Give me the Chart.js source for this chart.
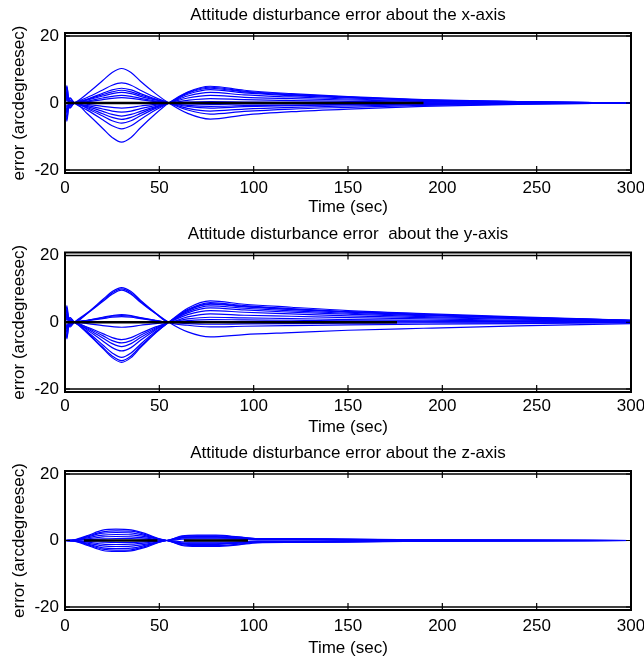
<!DOCTYPE html>
<html lang="en">
<head>
<meta charset="UTF-8">
<title>Attitude disturbance error</title>
<style>
    body { margin: 0; background: #ffffff; }
    #figure { position: relative; width: 644px; height: 662px; }
    .panel { position: absolute; left: 0; width: 644px; }
    .panel canvas { display: block; }
</style>
<script src="https://cdn.jsdelivr.net/npm/chart.js"></script>
</head>
<body>
<div id="figure">
    <div class="panel" style="top:0px"><canvas id="chartX" width="644" height="220"></canvas></div>
    <div class="panel" style="top:220px"><canvas id="chartY" width="644" height="220"></canvas></div>
    <div class="panel" style="top:440px"><canvas id="chartZ" width="644" height="222"></canvas></div>
</div>
<script>
// tick labels
const xTicks = [0, 50, 100, 150, 200, 250, 300];
const yTicks = [-20, 0, 20];

// sample times (sec) for the x- and y-axis runs
const timeXY = [0, 1, 2.5, 5, 12, 20, 25, 30, 35, 40, 48, 55, 65, 77, 95, 120, 150, 190, 240, 300];

// error about the x-axis (arcdegreesec), one row per run
const errX = [
    [0, 1.5, -0.5, 0, 2.9, 6.7, 9.1, 10.3, 9.1, 6.5, 2.8, 0, -3.1, -4.8, -3.6, -2.6, -1.8, -1.0, -0.4, 0],
    [0, 3.0, -0.9, 0, 1.7, 3.9, 5.3, 6.0, 5.3, 3.8, 1.6, 0, -2.1, -3.3, -2.5, -1.8, -1.3, -0.7, -0.3, 0],
    [0, -2.0, 0.6, 0, 1.2, 2.9, 3.9, 4.4, 3.9, 2.8, 1.2, 0, -1.6, -2.4, -1.8, -1.3, -0.9, -0.5, -0.2, 0],
    [0, 4.8, -1.4, 0, 1.1, 2.5, 3.3, 3.8, 3.3, 2.4, 1.0, 0, -1.0, -1.5, -1.1, -0.8, -0.6, -0.3, -0.1, 0],
    [0, -3.0, 0.9, 0, 0.9, 2.1, 2.8, 3.2, 2.8, 2.0, 0.9, 0, -0.7, -1.0, -0.8, -0.6, -0.4, -0.2, -0.1, 0],
    [0, 2.0, -0.6, 0, 0.6, 1.5, 2.0, 2.3, 2.0, 1.4, 0.6, 0, -0.3, -0.4, -0.3, -0.2, -0.2, -0.1, 0, 0],
    [0, -1.0, 0.3, 0, 0.4, 1.0, 1.4, 1.6, 1.4, 1.0, 0.4, 0, 0.3, 0.4, 0.3, 0.2, 0.2, 0.1, 0, 0],
    [0, 5.2, -1.6, 0, -0.4, -1.0, -1.3, -1.5, -1.3, -0.9, -0.4, 0, 0.8, 1.3, 1.0, 0.7, 0.5, 0.3, 0.1, 0],
    [0, -4.5, 1.4, 0, -0.8, -1.8, -2.4, -2.7, -2.4, -1.7, -0.7, 0, 1.5, 2.3, 1.7, 1.3, 0.9, 0.5, 0.2, 0],
    [0, 1.0, -0.3, 0, -1.1, -2.5, -3.4, -3.9, -3.4, -2.5, -1.1, 0, 2.1, 3.2, 2.4, 1.8, 1.2, 0.6, 0.3, 0],
    [0, -2.5, 0.8, 0, -1.4, -3.2, -4.3, -4.9, -4.3, -3.1, -1.3, 0, 2.6, 4.0, 3.0, 2.2, 1.5, 0.8, 0.3, 0],
    [0, 3.5, -1.0, 0, -1.7, -3.9, -5.3, -6.0, -5.3, -3.8, -1.6, 0, 2.9, 4.4, 3.3, 2.4, 1.7, 0.9, 0.4, 0],
    [0, -5.5, 1.6, 0, -2.2, -5.0, -6.8, -7.7, -6.8, -4.9, -2.1, 0, 3.1, 4.7, 3.5, 2.6, 1.8, 0.9, 0.4, 0],
    [0, 2.5, -0.8, 0, -3.3, -7.6, -10.3, -11.7, -10.3, -7.4, -3.2, 0, 3.3, 5.0, 3.8, 2.8, 1.9, 1.0, 0.4, 0]
];

// error about the y-axis
const errY = [
    [0, 5.0, -1.5, 0, 2.9, 6.8, 9.2, 10.4, 9.2, 6.6, 2.8, 0, -2.9, -4.4, -3.7, -3.1, -2.4, -1.8, -1.1, -0.4],
    [0, -2.0, 0.6, 0, 2.8, 6.5, 8.8, 10.0, 8.8, 6.3, 2.7, 0, -0.9, -1.4, -1.2, -1.0, -0.8, -0.6, -0.4, -0.1],
    [0, 1.5, -0.5, 0, 2.7, 6.2, 8.4, 9.6, 8.4, 6.0, 2.6, 0, 0.1, 0.2, 0.2, 0.1, 0.1, 0.1, 0.1, 0],
    [0, -4.5, 1.4, 0, 0.6, 1.5, 2.0, 2.3, 2.0, 1.4, 0.6, 0, 1.0, 1.5, 1.3, 1.1, 0.8, 0.6, 0.4, 0.2],
    [0, 2.5, -0.8, 0, 0.6, 1.3, 1.8, 2.0, 1.8, 1.3, 0.5, 0, -0.4, -0.6, -0.5, -0.4, -0.3, -0.2, -0.2, -0.1],
    [0, -1.0, 0.3, 0, 0.5, 1.1, 1.5, 1.7, 1.5, 1.1, 0.5, 0, 1.6, 2.5, 2.1, 1.8, 1.4, 1.0, 0.6, 0.3],
    [0, 3.5, -1.1, 0, -0.4, -1.0, -1.3, -1.5, -1.3, -0.9, -0.4, 0, 0.5, 0.8, 0.7, 0.6, 0.4, 0.3, 0.2, 0.1],
    [0, -3.0, 0.9, 0, -1.5, -3.4, -4.6, -5.2, -4.6, -3.3, -1.4, 0, 2.3, 3.5, 3.0, 2.5, 1.9, 1.4, 0.9, 0.4],
    [0, 1.0, -0.3, 0, -1.7, -4.0, -5.5, -6.2, -5.5, -3.9, -1.7, 0, 2.8, 4.3, 3.7, 3.0, 2.4, 1.7, 1.1, 0.4],
    [0, -5.0, 1.5, 0, -2.0, -4.7, -6.4, -7.3, -6.4, -4.6, -2.0, 0, 3.2, 4.9, 4.2, 3.4, 2.7, 2.0, 1.2, 0.5],
    [0, 4.0, -1.2, 0, -2.4, -5.6, -7.6, -8.6, -7.6, -5.4, -2.3, 0, 3.5, 5.4, 4.6, 3.8, 3.0, 2.2, 1.4, 0.5],
    [0, -2.0, 0.6, 0, -2.9, -6.8, -9.2, -10.5, -9.2, -6.6, -2.8, 0, 3.8, 5.9, 5.0, 4.1, 3.2, 2.4, 1.5, 0.6],
    [0, 2.0, -0.6, 0, -3.2, -7.5, -10.1, -11.5, -10.1, -7.2, -3.1, 0, 4.2, 6.4, 5.4, 4.5, 3.5, 2.6, 1.6, 0.6],
    [0, -1.5, 0.5, 0, -3.4, -7.8, -10.6, -12.0, -10.6, -7.6, -3.2, 0, 3.6, 5.6, 4.8, 3.9, 3.1, 2.2, 1.4, 0.6]
];

// sample times for the z-axis runs
const timeZ = [0, 5, 12, 20, 27, 35, 43, 50, 54, 62, 70, 80, 92, 102, 120, 150, 190, 230, 300];

// error about the z-axis
const errZ = [
    [0, 0.2, 1.5, 3.1, 3.4, 3.2, 2.0, 0.5, 0, -0.9, -1.0, -1.0, -0.7, -0.4, -0.4, -0.3, -0.1, -0.1, 0],
    [0, 0.1, 1.3, 2.6, 2.9, 2.8, 1.7, 0.4, 0, 1.4, 1.6, 1.6, 1.1, 0.6, 0.6, 0.4, 0.2, 0.1, 0],
    [0, 0.1, 1.1, 2.2, 2.4, 2.3, 1.4, 0.4, 0, -1.3, -1.5, -1.5, -1.1, -0.6, -0.5, -0.4, -0.2, -0.1, 0],
    [0, 0.1, 0.8, 1.6, 1.8, 1.7, 1.1, 0.3, 0, 1.0, 1.2, 1.2, 0.8, 0.5, 0.4, 0.3, 0.1, 0.1, 0],
    [0, 0.1, 0.5, 1.1, 1.2, 1.1, 0.7, 0.2, 0, -0.7, -0.8, -0.8, -0.6, -0.3, -0.3, -0.2, -0.1, 0, 0],
    [0, 0, 0.3, 0.5, 0.6, 0.6, 0.4, 0.1, 0, 0.4, 0.5, 0.5, 0.4, 0.2, 0.2, 0.1, 0.1, 0, 0],
    [0, 0, -0.3, -0.5, -0.6, -0.6, -0.4, -0.1, 0, -0.4, -0.5, -0.5, -0.4, -0.2, -0.2, -0.1, -0.1, 0, 0],
    [0, -0.1, -0.5, -1.1, -1.2, -1.1, -0.7, -0.2, 0, 0.9, 1.0, 1.0, 0.7, 0.4, 0.4, 0.3, 0.1, 0.1, 0],
    [0, -0.1, -0.8, -1.6, -1.8, -1.7, -1.1, -0.3, 0, -1.5, -1.8, -1.8, -1.3, -0.7, -0.6, -0.5, -0.2, -0.1, 0],
    [0, -0.1, -1.1, -2.2, -2.4, -2.3, -1.4, -0.4, 0, 0.7, 0.8, 0.8, 0.6, 0.3, 0.3, 0.2, 0.1, 0, 0],
    [0, -0.1, -1.3, -2.6, -2.9, -2.8, -1.7, -0.4, 0, 1.2, 1.4, 1.4, 1.0, 0.6, 0.5, 0.4, 0.1, 0.1, 0],
    [0, -0.2, -1.5, -3.0, -3.3, -3.1, -2.0, -0.5, 0, -1.0, -1.2, -1.2, -0.8, -0.5, -0.4, -0.3, -0.1, -0.1, 0]
];

// black reference (zero) line, null = gap
const refX1 = [0, 190];
const refY1 = [0, 0];
const refX2 = [0, 176];
const refY2 = [0, 0];
const refX3 = [10, 49, 56, 63, 97];
const refY3 = [0, 0, null, 0, 0];

const FONT = "'Liberation Sans', Arial, Helvetica, sans-serif";

// MATLAB style box: double line top/bottom, inward ticks
const boxPlugin = {
    id: 'matlabBox',
    afterDatasetsDraw(chart) {
        const { ctx, chartArea: a, scales } = chart;
        const g = 3;
        ctx.save();
        ctx.strokeStyle = '#000';
        ctx.lineWidth = 1.3;
        ctx.beginPath();
        ctx.moveTo(a.left, a.top); ctx.lineTo(a.right, a.top);
        ctx.moveTo(a.left, a.bottom); ctx.lineTo(a.right, a.bottom);
        ctx.stroke();
        ctx.lineWidth = 2;
        ctx.beginPath();
        ctx.moveTo(a.left, a.top - g); ctx.lineTo(a.right, a.top - g);
        ctx.moveTo(a.left, a.bottom + g); ctx.lineTo(a.right, a.bottom + g);
        ctx.moveTo(a.left, a.top - g - 1); ctx.lineTo(a.left, a.bottom + g + 1);
        ctx.moveTo(a.right, a.top - g - 1); ctx.lineTo(a.right, a.bottom + g + 1);
        ctx.stroke();
        ctx.lineWidth = 1.2;
        ctx.beginPath();
        xTicks.forEach(v => {
            const px = scales.x.getPixelForValue(v);
            ctx.moveTo(px, a.top - g); ctx.lineTo(px, a.top + 4);
            ctx.moveTo(px, a.bottom + g); ctx.lineTo(px, a.bottom - 4);
        });
        yTicks.forEach(v => {
            const py = scales.y.getPixelForValue(v);
            ctx.moveTo(a.left, py); ctx.lineTo(a.left + 5, py);
            ctx.moveTo(a.right, py); ctx.lineTo(a.right - 5, py);
        });
        ctx.stroke();
        ctx.restore();
    }
};

function makeChart(id, title, times, runs, refX, refY, geo) {
    const datasets = [{
        data: refX.map((x, i) => ({ x: x, y: refY[i] })),
        borderColor: '#000000',
        borderWidth: 2.5,
        pointRadius: 0,
        spanGaps: false
    }];
    runs.forEach(run => {
        datasets.push({
            data: times.map((t, i) => ({ x: t, y: run[i] })),
            borderColor: '#0000ff',
            borderWidth: 1.2,
            pointRadius: 0,
            cubicInterpolationMode: 'monotone'
        });
    });

    return new Chart(document.getElementById(id), {
        type: 'line',
        data: { datasets: datasets },
        plugins: [boxPlugin],
        options: {
            responsive: false,
            animation: false,
            events: [],
            layout: { padding: { left: 0, right: 13, top: 0, bottom: 0 } },
            plugins: {
                legend: { display: false },
                tooltip: { enabled: false },
                title: {
                    display: true,
                    fullSize: false,
                    text: title,
                    color: '#000',
                    font: { family: FONT, size: 17, weight: 'normal' },
                    padding: geo.titlePad
                }
            },
            scales: {
                x: {
                    type: 'linear',
                    min: 0,
                    max: 300,
                    afterBuildTicks: s => { s.ticks = xTicks.map(v => ({ value: v })); },
                    grid: { display: false, drawTicks: false },
                    border: { display: false },
                    ticks: {
                        color: '#000',
                        font: { family: FONT, size: 17 },
                        padding: geo.tickPad,
                        maxRotation: 0,
                        autoSkip: false
                    },
                    title: {
                        display: true,
                        text: 'Time (sec)',
                        color: '#000',
                        font: { family: FONT, size: 17 },
                        padding: { top: 0, bottom: geo.xTitlePad }
                    },
                    afterFit: s => {
                        s.height = geo.height - geo.areaBottom;
                        s.paddingLeft = 0;
                        s.paddingRight = 0;
                    }
                },
                y: {
                    min: -20,
                    max: 20,
                    afterBuildTicks: s => { s.ticks = yTicks.map(v => ({ value: v })); },
                    grid: { display: false, drawTicks: false },
                    border: { display: false },
                    ticks: {
                        color: '#000',
                        font: { family: FONT, size: 17 },
                        padding: 6
                    },
                    title: {
                        display: true,
                        text: 'error (arcdegreesec)',
                        color: '#000',
                        font: { family: FONT, size: 17 },
                        padding: { top: 8.8, bottom: 0 }
                    },
                    afterFit: s => {
                        s.width = 65;
                        s.paddingTop = 0;
                        s.paddingBottom = 0;
                    }
                }
            }
        }
    });
}

makeChart('chartX', 'Attitude disturbance error about the x-axis', timeXY, errX, refX1, refY1,
    { height: 220, areaBottom: 170, titlePad: { top: 4.8, bottom: 10.8 }, tickPad: 8, xTitlePad: 2.8 });
makeChart('chartY', 'Attitude disturbance error  about the y-axis', timeXY, errY, refX2, refY2,
    { height: 220, areaBottom: 169, titlePad: { top: 3.8, bottom: 11.3 }, tickPad: 7, xTitlePad: 2.8 });
makeChart('chartZ', 'Attitude disturbance error about the z-axis', timeZ, errZ, refX3, refY3,
    { height: 222, areaBottom: 167, titlePad: { top: 2.8, bottom: 10.8 }, tickPad: 9, xTitlePad: 3.8 });
</script>
</body>
</html>
